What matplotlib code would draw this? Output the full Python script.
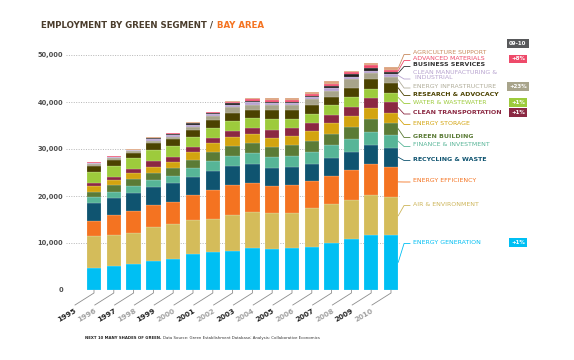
import numpy as np
import matplotlib
matplotlib.use("Agg")
import matplotlib.pyplot as plt

# data (jobs), bottom to top of each stacked bar
years = ["1995", "1996", "1997", "1998", "1999", "2000", "2001", "2002",
         "2003", "2004", "2005", "2006", "2007", "2008", "2009", "2010"]

energy_generation = [4700, 5100, 5500, 6200, 6700, 7700, 8000, 8400, 9000, 8700, 9000, 9200, 10000, 10900, 11800, 11800]
air_environment = [6700, 6700, 6700, 7100, 7300, 7100, 7200, 7600, 7700, 7700, 7400, 8200, 8200, 8200, 8400, 8000]
energy_efficiency = [3300, 4200, 4700, 4800, 4700, 5400, 6100, 6300, 6100, 5700, 5900, 5700, 6100, 6400, 6600, 6400]
recycling_waste = [3900, 3600, 3800, 3800, 4000, 3900, 4100, 4100, 4000, 3800, 3800, 3700, 3800, 3900, 4100, 4100]
finance_investment = [1100, 1300, 1400, 1600, 1600, 1800, 2000, 2200, 2300, 2300, 2400, 2600, 2800, 2800, 2800, 2700]
green_building = [1200, 1400, 1500, 1500, 1700, 1800, 2000, 2000, 2200, 2200, 2300, 2400, 2300, 2500, 2600, 2600]
energy_storage = [1200, 1100, 1200, 1200, 1300, 1700, 1800, 1900, 1800, 1900, 2000, 2100, 2400, 2300, 2400, 2100]
clean_transportation = [700, 600, 900, 1200, 1100, 1100, 1100, 1400, 1400, 1700, 1600, 1700, 1600, 2000, 2100, 2200]
water_wastewater = [2400, 2400, 2300, 2400, 2200, 2100, 2100, 2100, 2200, 2300, 1900, 1800, 2100, 2100, 2000, 2100]
research_advocacy = [1200, 1300, 1200, 1400, 1500, 1400, 1800, 1700, 1700, 1900, 1900, 2000, 1800, 1900, 2000, 2000]
energy_infrastructure = [400, 400, 350, 600, 500, 700, 800, 1200, 1000, 1200, 1200, 1200, 1300, 1800, 1300, 1400]
clean_manufacturing = [200, 200, 150, 300, 300, 500, 400, 400, 500, 300, 300, 400, 500, 600, 600, 500]
business_services = [100, 100, 100, 200, 300, 250, 300, 400, 300, 300, 400, 300, 500, 500, 500, 500]
advanced_materials = [50, 50, 50, 100, 150, 100, 100, 300, 400, 400, 300, 500, 500, 400, 600, 500]
agriculture_support = [100, 150, 100, 100, 150, 150, 100, 200, 300, 400, 500, 300, 500, 300, 600, 600]

series = [energy_generation, air_environment, energy_efficiency, recycling_waste,
          finance_investment, green_building, energy_storage, clean_transportation,
          water_wastewater, research_advocacy, energy_infrastructure, clean_manufacturing,
          business_services, advanced_materials, agriculture_support]

names = ["ENERGY GENERATION", "AIR & ENVIRONMENT", "ENERGY EFFICIENCY", "RECYCLING & WASTE",
         "FINANCE & INVESTMENT", "GREEN BUILDING", "ENERGY STORAGE", "CLEAN TRANSPORTATION",
         "WATER & WASTEWATER", "RESEARCH & ADVOCACY", "ENERGY INFRASTRUCTURE",
         "CLEAN MANUFACTURING &\n INDUSTRIAL", "BUSINESS SERVICES", "ADVANCED MATERIALS",
         "AGRICULTURE SUPPORT"]

colors = ["#00BFF3", "#D4BC5A", "#F47321", "#0F5470", "#57B597", "#5B7B36", "#D3A40F",
          "#8B2842", "#9DCB3C", "#4B4200", "#A8A48B", "#B7A3CF", "#231F20", "#EE4A6A", "#DDA37E"]
label_colors = ["#00BFF3", "#CDB55A", "#F47321", "#0F5470", "#57B597", "#5B7B36", "#D3A40F",
                "#8B2842", "#9DCB3C", "#4B4200", "#B0AD9A", "#B7A3CF", "#333333", "#EE4A6A", "#C98A5E"]

# change badges 2009-10
badge_names = ["ADVANCED MATERIALS", "ENERGY INFRASTRUCTURE", "WATER & WASTEWATER",
               "CLEAN TRANSPORTATION", "ENERGY GENERATION"]
badge_text = ["+8%", "+23%", "+1%", "+1%", "+1%"]

yticks = [0, 10000, 20000, 30000, 40000, 50000]

# layout (pixels from top of the 574x360 image)
label_ypx = [242.3, 204, 180.7, 159.3, 145, 136.3, 123, 112.7, 102.3, 94.3, 86.7, 75, 65, 59, 52.7]
leader_ypx = [243.5, 205.5, 182, 160.5, 146.5, 137.5, 124.5, 114, 103.5, 95.5, 88, 79, 66.5, 60.5, 54.5]

fig = plt.figure(figsize=(5.74, 3.6), dpi=100)
ax = fig.add_axes([66/574, 70/360, 334/574, 235/360])
ax.set_xlim(-1.414, 15.455)
ax.set_ylim(0, 50000)
PY = 50000/235.0   # data units per pixel in y
PX = 1/19.8        # data units per pixel in x

for s in ax.spines.values():
    s.set_visible(False)
ax.set_axisbelow(True)
ax.yaxis.grid(True, color="#B5B5B5", linestyle=(0, (1, 1.5)), linewidth=0.7)
ax.set_xticks([])
ax.set_yticks(yticks)
ax.set_yticklabels(["{:,}".format(v) for v in yticks])
ax.tick_params(axis="y", length=0, pad=2, labelsize=4.8, labelcolor="#4D4D4D")
for t in ax.get_yticklabels():
    t.set_fontweight("bold")

x = np.arange(len(years))
bottom = np.zeros(len(years))
for vals, c in zip(series, colors):
    ax.bar(x, vals, bottom=bottom, width=0.73, color=c, edgecolor="#FFFFFF99", linewidth=0.2)
    bottom += np.array(vals)

# year labels with leader lines
for i, yr in enumerate(years):
    ax.plot([i, i, i - 19*PX], [0, -3*PY, -15*PY], color="#8C8C8C", lw=0.6, clip_on=False)
    odd = int(yr) % 2 == 1
    ax.text(i - 19.5*PX, -17.5*PY, yr, rotation=30, rotation_mode="anchor", ha="right", va="top",
            fontsize=5.2, fontweight="bold", color="#222222" if odd else "#A0A0A0", clip_on=False)

# right labels with leaders from the 2010 bar
last = len(years) - 1
cum = 0
for k, (vals, name) in enumerate(zip(series, names)):
    mid = cum + vals[last]/2.0
    cum += vals[last]
    ly = (290 - label_ypx[k])*PY
    lly = (290 - leader_ypx[k])*PY
    ax.plot([last + 0.365, 15.66, 15.96], [mid, lly, lly], color=label_colors[k], lw=0.6, clip_on=False)
    ax.text(16.11, ly, name, fontsize=4.5, color=label_colors[k], va="center", ha="left",
            fontweight="bold" if k in (3, 5, 7, 9, 12) else "normal", linespacing=1.0, clip_on=False)
    if name in badge_names:
        j = badge_names.index(name)
        ax.text(21.41, ly, badge_text[j], fontsize=4.0, color="white", fontweight="bold",
                ha="center", va="center", clip_on=False,
                bbox=dict(boxstyle="square,pad=0.35", fc=colors[k], ec="none"))

ax.text(21.41, (290 - 43.7)*PY, "09-10", fontsize=4.0, color="white", fontweight="bold",
        ha="center", va="center", clip_on=False,
        bbox=dict(boxstyle="square,pad=0.35", fc="#58595B", ec="none"))

# title
t1 = fig.text(41/574, (360 - 25)/360, "EMPLOYMENT BY GREEN SEGMENT / ", fontsize=6.2,
              fontweight="bold", color="#4A3C2C", va="center", ha="left")
fig.canvas.draw()
bb = t1.get_window_extent()
fig.text(bb.x1/574 + 0.002, (360 - 25)/360, "BAY AREA", fontsize=6.2, fontweight="bold",
         color="#F47321", va="center", ha="left")

# footer
f1 = fig.text(85/574, (360 - 338)/360, "NEXT 10 MANY SHADES OF GREEN.", fontsize=2.8,
              fontweight="bold", color="#222222", va="center", ha="left")
fig.canvas.draw()
bb = f1.get_window_extent()
fig.text(bb.x1/574 + 0.003, (360 - 338)/360,
         "Data Source: Green Establishment Database; Analysis: Collaborative Economics",
         fontsize=2.8, color="#333333", va="center", ha="left")

fig.savefig("out.png", dpi=100)
